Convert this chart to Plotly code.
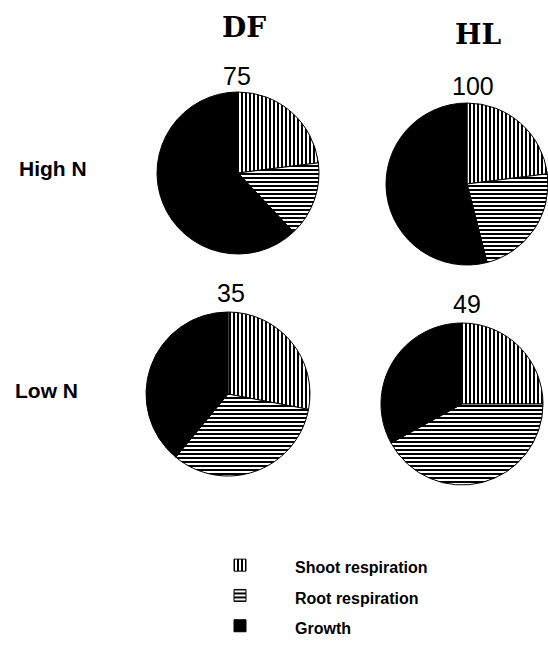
import plotly.graph_objects as go

# Carbon use partitioning (percent of total) for two species at two N levels
components = ["Shoot respiration", "Root respiration", "Growth"]
species = ["DF", "HL"]
nitrogen = ["High N", "Low N"]
totals = {("DF", "High N"): 75, ("HL", "High N"): 100,
          ("DF", "Low N"): 35, ("HL", "Low N"): 49}
df_high_n = [23, 15, 62]
hl_high_n = [23, 23, 54]
df_low_n = [28, 33, 39]
hl_low_n = [25, 42, 33]
values = {("DF", "High N"): df_high_n, ("HL", "High N"): hl_high_n,
          ("DF", "Low N"): df_low_n, ("HL", "Low N"): hl_low_n}

W, H = 548, 646

# pie placement in pixels: centre x, centre y, radius
placement = {("DF", "High N"): (238, 173, 81),
             ("HL", "High N"): (467, 184, 81),
             ("DF", "Low N"): (228, 394, 82),
             ("HL", "Low N"): (462, 404, 81)}
total_label_pos = {("DF", "High N"): (237, 76), ("HL", "High N"): (473, 86),
                   ("DF", "Low N"): (231, 293), ("HL", "Low N"): (467, 304)}
species_label_pos = {"DF": (244, 27), "HL": (478, 35)}
row_label_pos = {"High N": (17, 168), "Low N": (13, 390)}

shapes = ["|", "-", ""]
fgcolors = ["black", "black", "black"]
bgcolors = ["white", "white", "black"]
colors = ["white", "white", "black"]

# legend entries: wider gap before the text, smaller text inside a taller row
legend_names = ["\u00a0" * 6 + '<span style="font-size:16px">' + c + "</span>"
                for c in components]

fig = go.Figure()
first = True
for sp in species:
    for n in nitrogen:
        cx, cy, r = placement[(sp, n)]
        fig.add_trace(go.Pie(
            labels=legend_names,
            values=values[(sp, n)],
            sort=False,
            direction="clockwise",
            rotation=0,
            textinfo="none",
            hoverinfo="percent",
            marker=dict(colors=colors,
                        pattern=dict(shape=shapes, fgcolor=fgcolors, bgcolor=bgcolors,
                                     size=4, solidity=0.5),
                        line=dict(color="black", width=1)),
            domain=dict(x=[(cx - r) / W, min((cx + r) / W, 1)],
                        y=[1 - (cy + r) / H, 1 - (cy - r) / H]),
            showlegend=first,
        ))
        first = False

annotations = []
for sp in species:
    x, y = species_label_pos[sp]
    annotations.append(dict(x=x / W, y=1 - y / H, xref="paper", yref="paper",
                            text=sp, showarrow=False, xanchor="center", yanchor="middle",
                            font=dict(family="DejaVu Serif", size=28, color="black", weight="bold")))
for n in nitrogen:
    x, y = row_label_pos[n]
    annotations.append(dict(x=x / W, y=1 - y / H, xref="paper", yref="paper",
                            text=n, showarrow=False, xanchor="left", yanchor="middle",
                            font=dict(family="Liberation Sans", size=21, color="black", weight="bold")))
for key, total in totals.items():
    x, y = total_label_pos[key]
    annotations.append(dict(x=x / W, y=1 - y / H, xref="paper", yref="paper",
                            text=str(total), showarrow=False, xanchor="center", yanchor="middle",
                            font=dict(family="Liberation Sans", size=25, color="black")))

fig.update_layout(
    width=W, height=H,
    margin=dict(l=0, r=0, t=0, b=0),
    paper_bgcolor="white",
    plot_bgcolor="white",
    annotations=annotations,
    legend=dict(x=220 / W, y=0, xanchor="left", yanchor="bottom",
                font=dict(family="Liberation Sans", size=21, color="black", weight="bold"),
                bgcolor="rgba(0,0,0,0)", traceorder="normal", itemclick=False),
)

fig.write_html("out.html")
